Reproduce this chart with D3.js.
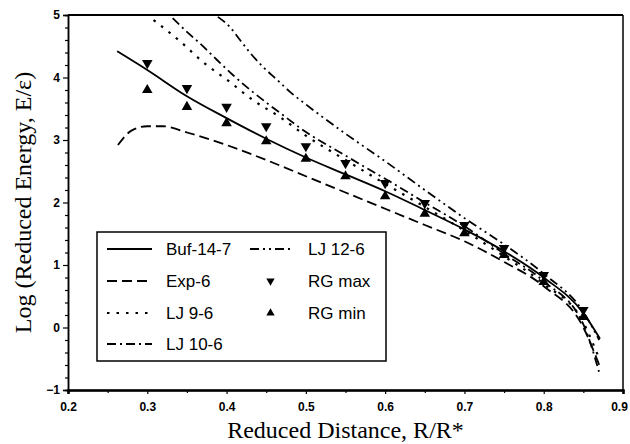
<!DOCTYPE html>
<html>
<head>
<meta charset="utf-8">
<script src="https://cdn.jsdelivr.net/npm/d3@7"></script>
<style>
  body { margin: 0; background: #fff; }
  svg { display: block; }
</style>
</head>
<body>
<div id="wrapper"></div>
<script>
// values
const bufX  = [0.262, 0.3, 0.35, 0.4, 0.45, 0.5, 0.55, 0.6, 0.65, 0.7, 0.75, 0.8, 0.85, 0.871]
const bufY  = [4.42, 4.12, 3.70, 3.35, 3.02, 2.72, 2.45, 2.18, 1.88, 1.57, 1.22, 0.80, 0.23, -0.18]
const expX  = [0.263, 0.28, 0.3, 0.32, 0.35, 0.4, 0.45, 0.5, 0.55, 0.6, 0.65, 0.7, 0.75, 0.8, 0.85, 0.87]
const expY  = [2.92, 3.15, 3.22, 3.22, 3.12, 2.92, 2.68, 2.42, 2.16, 1.90, 1.64, 1.38, 1.05, 0.66, 0.0, -0.6]
const lj96X = [0.308, 0.344, 0.37, 0.404, 0.433, 0.467, 0.5, 0.55, 0.6, 0.65, 0.7, 0.75, 0.8, 0.85, 0.87]
const lj96Y = [4.92, 4.55, 4.25, 3.93, 3.64, 3.37, 3.07, 2.68, 2.30, 1.93, 1.55, 1.14, 0.70, 0.08, -0.5]
const lj106X = [0.332, 0.35, 0.366, 0.388, 0.408, 0.43, 0.451, 0.471, 0.493, 0.55, 0.6, 0.65, 0.7, 0.75, 0.8, 0.85, 0.87]
const lj106Y = [4.95, 4.73, 4.55, 4.28, 4.04, 3.80, 3.59, 3.40, 3.19, 2.75, 2.38, 2.00, 1.62, 1.18, 0.74, 0.05, -0.72]
const lj126X = [0.389, 0.404, 0.417, 0.43, 0.446, 0.464, 0.48, 0.5, 0.55, 0.6, 0.65, 0.7, 0.75, 0.8, 0.85, 0.87]
const lj126Y = [4.97, 4.81, 4.60, 4.39, 4.17, 3.96, 3.77, 3.57, 3.10, 2.66, 2.20, 1.75, 1.33, 0.86, 0.25, -0.2]

const rgX   = [0.3, 0.35, 0.4, 0.45, 0.5, 0.55, 0.6, 0.65, 0.7, 0.75, 0.8, 0.85]
const rgMax = [4.23, 3.83, 3.53, 3.22, 2.90, 2.63, 2.31, 1.99, 1.64, 1.27, 0.84, 0.28]
const rgMin = [3.80, 3.53, 3.27, 2.98, 2.70, 2.42, 2.10, 1.82, 1.51, 1.16, 0.73, 0.17]

const xTicks = [0.2, 0.3, 0.4, 0.5, 0.6, 0.7, 0.8, 0.9]
const yTicks = [-1, 0, 1, 2, 3, 4, 5]

const series = [
  { name: "Buf-14-7", xs: bufX,   ys: bufY,   dash: null },
  { name: "Exp-6",    xs: expX,   ys: expY,   dash: "10,5" },
  { name: "LJ 9-6",   xs: lj96X,  ys: lj96Y,  dash: "2.5,7" },
  { name: "LJ 10-6",  xs: lj106X, ys: lj106Y, dash: "9,4,2,4" },
  { name: "LJ 12-6",  xs: lj126X, ys: lj126Y, dash: "9,4,2,4,2,4" },
]

const width = 630, height = 444
const m = { top: 15, right: 7, bottom: 54, left: 68 }

const svg = d3.select("#wrapper").append("svg")
    .attr("width", width)
    .attr("height", height)

const xScale = d3.scaleLinear().domain([0.2, 0.9]).range([m.left, width - m.right])
const yScale = d3.scaleLinear().domain([-1, 5]).range([height - m.bottom, m.top])

svg.append("clipPath").attr("id", "clip")
  .append("rect")
    .attr("x", m.left).attr("y", m.top)
    .attr("width", width - m.left - m.right)
    .attr("height", height - m.top - m.bottom)

// frame
svg.append("line")
    .attr("x1", m.left).attr("x2", width - m.right)
    .attr("y1", m.top).attr("y2", m.top)
    .attr("stroke", "#000").attr("stroke-width", 2)
svg.append("line")
    .attr("x1", width - m.right).attr("x2", width - m.right)
    .attr("y1", m.top).attr("y2", height - m.bottom)
    .attr("stroke", "#000").attr("stroke-width", 1.5)

// axes
const xAxis = svg.append("g")
    .attr("transform", `translate(0,${height - m.bottom})`)
    .call(d3.axisBottom(xScale).tickValues(xTicks).tickFormat(d3.format(".1f")).tickSize(4).tickPadding(8))
xAxis.selectAll(".tick text").filter(d => d === 0.9).attr("dx", -4)
const xMinor = svg.append("g")
    .attr("transform", `translate(0,${height - m.bottom})`)
    .call(d3.axisBottom(xScale).tickValues(d3.range(0.25, 0.9, 0.1)).tickFormat("").tickSize(3))

const yAxis = svg.append("g")
    .attr("transform", `translate(${m.left},0)`)
    .call(d3.axisLeft(yScale).tickValues(yTicks).tickFormat(d3.format("d")).tickSize(5).tickPadding(3))
const yMinor = svg.append("g")
    .attr("transform", `translate(${m.left},0)`)
    .call(d3.axisLeft(yScale).tickValues(d3.range(-0.8, 5, 0.2).filter(v => Math.abs(v - Math.round(v)) > 0.01)).tickFormat("").tickSize(3))

svg.selectAll(".domain").attr("stroke-width", 1.5)
xAxis.select(".domain").attr("stroke-width", 2.5)
svg.selectAll(".tick line").attr("stroke-width", 1.2)
svg.selectAll(".tick text")
    .style("font-family", "Liberation Sans, Arial, sans-serif")
    .style("font-size", "12px")
    .style("font-weight", "bold")
    .attr("fill", "#000")

// curves
const line = d3.line()
    .x(d => xScale(d[0]))
    .y(d => yScale(d[1]))
    .curve(d3.curveMonotoneX)

const plot = svg.append("g").attr("clip-path", "url(#clip)")
series.forEach(s => {
  plot.append("path")
      .datum(s.xs.map((x, i) => [x, s.ys[i]]))
      .attr("d", line)
      .attr("fill", "none")
      .attr("stroke", "#000")
      .attr("stroke-width", s.name === "LJ 9-6" ? 2.2 : 1.8)
      .attr("stroke-dasharray", s.dash)
})

const tri = d3.symbol().type(d3.symbolTriangle).size(48)
plot.selectAll(".rgmax")
    .data(rgX.map((x, i) => [x, rgMax[i]]))
    .join("path")
    .attr("d", tri)
    .attr("transform", d => `translate(${xScale(d[0])},${yScale(d[1])}) rotate(180)`)
    .attr("fill", "#000")
plot.selectAll(".rgmin")
    .data(rgX.map((x, i) => [x, rgMin[i]]))
    .join("path")
    .attr("d", tri)
    .attr("transform", d => `translate(${xScale(d[0])},${yScale(d[1])})`)
    .attr("fill", "#000")

// legend
const legend = svg.append("g")
legend.append("rect")
    .attr("x", 97).attr("y", 232).attr("width", 289).attr("height", 129)
    .attr("fill", "#fff").attr("stroke", "#000").attr("stroke-width", 1.5)

const rows = [249, 281, 313, 344]
const legendItems = [
  { s: series[0], col: 0, row: 0 },
  { s: series[1], col: 0, row: 1 },
  { s: series[2], col: 0, row: 2 },
  { s: series[3], col: 0, row: 3 },
  { s: series[4], col: 1, row: 0 },
  { marker: "down", name: "RG max", col: 1, row: 1 },
  { marker: "up", name: "RG min", col: 1, row: 2 },
]
const cols = [{ x0: 107, x1: 152, tx: 166 }, { x0: 250, x1: 293, tx: 308 }]
legendItems.forEach(it => {
  const c = cols[it.col], y = rows[it.row]
  if (it.s) {
    legend.append("line")
        .attr("x1", c.x0).attr("x2", c.x1).attr("y1", y).attr("y2", y)
        .attr("stroke", "#000").attr("stroke-width", 1.8)
        .attr("stroke-dasharray", it.s.dash)
  } else {
    legend.append("path")
        .attr("d", d3.symbol().type(d3.symbolTriangle).size(30))
        .attr("transform", `translate(${(c.x0 + c.x1) / 2 - 1},${y})` + (it.marker === "down" ? " rotate(180)" : ""))
        .attr("fill", "#000")
  }
  legend.append("text")
      .attr("x", c.tx).attr("y", y + 6)
      .text(it.s ? it.s.name : it.name)
      .style("font-family", "Liberation Sans, Arial, sans-serif")
      .style("font-size", "17px")
})

// axis titles
svg.append("text")
    .attr("x", (m.left + width - m.right) / 2)
    .attr("y", 438)
    .attr("text-anchor", "middle")
    .style("font-family", "Liberation Serif, Times New Roman, serif")
    .style("font-size", "24px")
    .text("Reduced Distance, R/R*")

svg.append("text")
    .attr("transform", `translate(31,${(m.top + height - m.bottom) / 2}) rotate(-90)`)
    .attr("text-anchor", "middle")
    .style("font-family", "Liberation Serif, Times New Roman, serif")
    .style("font-size", "24px")
    .text("Log (Reduced Energy, E/ε)")
</script>
</body>
</html>
